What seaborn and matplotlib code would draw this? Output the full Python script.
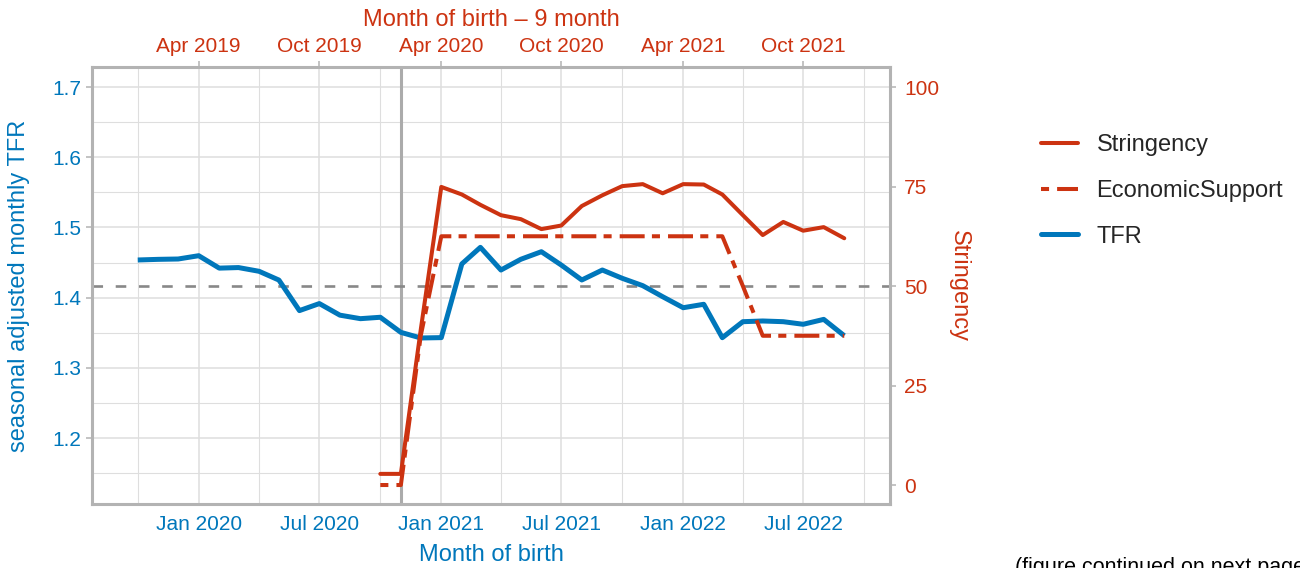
import pandas as pd
import numpy as np
import matplotlib
matplotlib.use("Agg")
import matplotlib.pyplot as plt
import matplotlib.dates as mdates
from matplotlib.lines import Line2D
import seaborn as sns

# ---------------- data ----------------
tfr_months = pd.date_range("2019-10-01", "2022-09-01", freq="MS")
tfr_values = [1.4536, 1.4545, 1.4550, 1.4597, 1.4420, 1.4428, 1.4375, 1.4250,
              1.3815, 1.3915, 1.3750, 1.3700, 1.3720, 1.3505, 1.3425, 1.3430,
              1.4480, 1.4716, 1.4393, 1.4546, 1.4654, 1.4464, 1.4251, 1.4393,
              1.4275, 1.4170, 1.4013, 1.3856, 1.3905, 1.3429, 1.3657, 1.3667,
              1.3657, 1.3620, 1.3690, 1.3457]

policy_months = pd.date_range("2020-10-01", "2022-09-01", freq="MS")
stringency_values = [2.8, 2.8, 39.0, 74.9, 73.0, 70.4, 67.8, 66.8, 64.3, 65.2,
                     70.1, 72.8, 75.1, 75.6, 73.3, 75.6, 75.5, 73.0, 67.8, 62.8,
                     66.1, 63.9, 64.8, 62.0]
econ_support_values = [0.0, 0.0, 37.5, 62.5, 62.5, 62.5, 62.5, 62.5, 62.5, 62.5,
                       62.5, 62.5, 62.5, 62.5, 62.5, 62.5, 62.5, 62.5, 50.0, 37.5,
                       37.5, 37.5, 37.5, 37.5]

tfr_reference = 1.417
vline_date = pd.Timestamp("2020-11-01")

left_ticks = [1.2, 1.3, 1.4, 1.5, 1.6, 1.7]
left_minor_ticks = [1.15, 1.25, 1.35, 1.45, 1.55, 1.65]
right_ticks = [0, 25, 50, 75, 100]
legend_labels = ["Stringency", "EconomicSupport", "TFR"]

tfr_df = pd.DataFrame({"month": tfr_months, "TFR": tfr_values})
pol_df = pd.DataFrame({"month": policy_months, "Stringency": stringency_values,
                       "EconomicSupport": econ_support_values})

# ---------------- style ----------------
RED = "#CC3311"
BLUE = "#0077BB"
GRID = "#DEDEDE"
BORDER = "#B3B3B3"

sns.set_style("white")
plt.rcParams["font.family"] = ["Liberation Sans", "DejaVu Sans"]

fig = plt.figure(figsize=(13, 5.68), dpi=100)
ax = fig.add_axes([92 / 1300, 1 - 504 / 568, (890 - 92) / 1300, (504 - 67) / 568])

# reference lines
ax.axvline(vline_date, color="#ABABAB", lw=2.2, zorder=2)
ax.axhline(tfr_reference, color="#888888", lw=1.9, dashes=(4.0, 4.8), zorder=2)

sns.lineplot(data=tfr_df, x="month", y="TFR", ax=ax, color=BLUE, lw=3.6,
             zorder=3, solid_capstyle="butt")

ax.xaxis.set_major_locator(mdates.MonthLocator(bymonth=[1, 7]))
ax.xaxis.set_minor_locator(mdates.MonthLocator(bymonth=[4, 10]))
ax.xaxis.set_major_formatter(mdates.DateFormatter("%b %Y"))
ax.set_yticks(left_ticks)
ax.set_yticks(left_minor_ticks, minor=True)
ax.yaxis.set_major_formatter(matplotlib.ticker.FormatStrFormatter("%.1f"))
ax.set_xlim(pd.Timestamp("2019-07-24"), pd.Timestamp("2022-11-09"))
ax.set_ylim(1.106, 1.7285)

ax.grid(which="major", color=GRID, lw=1.1, zorder=0)
ax.grid(which="minor", color=GRID, lw=0.8, zorder=0)
ax.set_axisbelow(True)

for s in ax.spines.values():
    s.set_color(BORDER)
    s.set_linewidth(2.2)
    s.set_zorder(5)

ax.tick_params(axis="both", which="major", length=4, width=1.1, color=BORDER,
               labelsize=15, pad=4)
ax.tick_params(axis="both", which="minor", length=0)
ax.tick_params(axis="x", colors=BORDER, labelcolor=BLUE)
ax.tick_params(axis="y", colors=BORDER, labelcolor=BLUE)

ax.set_xlabel("Month of birth", color=BLUE, fontsize=17, labelpad=7)
ax.set_ylabel("seasonal adjusted monthly TFR", color=BLUE, fontsize=17,
              va="center")
ax.yaxis.set_label_coords((19 - 92) / 798, 0.5)

# secondary (right) axis for policy indices
ax2 = ax.twinx()
sns.lineplot(data=pol_df, x="month", y="Stringency", ax=ax2, color=RED, lw=2.9,
             zorder=4)
l_es = sns.lineplot(data=pol_df, x="month", y="EconomicSupport", ax=ax2, color=RED,
                    lw=2.9, zorder=4)
l_es.lines[-1].set_dashes((2.0, 2.0, 6.2, 1.8))
ax2.set_yticks(right_ticks)
ax2.set_ylim(-4.77, 105.03)
ax2.set_xlim(ax.get_xlim())
for s in ax2.spines.values():
    s.set_visible(False)
ax2.tick_params(axis="y", length=4, width=1.1, color=BORDER, labelcolor=RED,
                labelsize=15, pad=6)
ax2.set_ylabel("Stringency", color=RED, fontsize=17, rotation=270, labelpad=22)
ax2.set_xlabel("")
ax2.grid(False)

ax.patch.set_visible(False)
ax.set_zorder(1)
ax2.set_zorder(2)
fig.patch.set_facecolor("white")

# top axis: Month of birth - 9 month
sec = ax.secondary_xaxis("top")
major_dates = [pd.Timestamp(d) for d in ["2020-01-01", "2020-07-01", "2021-01-01",
                                         "2021-07-01", "2022-01-01", "2022-07-01"]]
top_labels = [(d - pd.DateOffset(months=9)).strftime("%b %Y") for d in major_dates]
sec.set_xticks([mdates.date2num(d) for d in major_dates], labels=top_labels)
sec.xaxis.set_minor_locator(matplotlib.ticker.NullLocator())
sec.tick_params(axis="x", length=4, width=1.1, color=BORDER, labelcolor=RED,
                labelsize=15, pad=4)
sec.spines["top"].set_visible(False)
sec.set_xlabel("Month of birth \u2013 9 month", color=RED, fontsize=17, labelpad=8)

# legend
handles = [
    Line2D([], [], color=RED, lw=2.9),
    Line2D([], [], color=RED, lw=2.9, dashes=(2.0, 2.0, 6.2, 1.8)),
    Line2D([], [], color=BLUE, lw=3.6),
]
fig.legend(handles, legend_labels, loc="center left",
           bbox_to_anchor=(1041 / 1300, 1 - 191 / 568), frameon=False,
           fontsize=17, handlelength=1.55, handletextpad=0.8, labelspacing=1.0,
           borderpad=0, borderaxespad=0)

fig.text(1015 / 1300, 1 - 557 / 568, "(figure continued on next page)",
         fontsize=15.5, color="black", ha="left", va="top")

fig.savefig("out.png", dpi=100)
